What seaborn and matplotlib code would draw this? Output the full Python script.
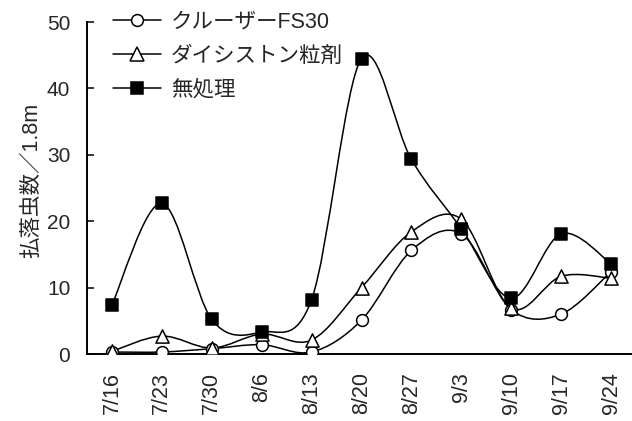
import numpy as np
import pandas as pd
import matplotlib
matplotlib.use("Agg")
import matplotlib.pyplot as plt
from matplotlib.path import Path
from matplotlib.patches import PathPatch
from matplotlib.lines import Line2D
import seaborn as sns

# Survey dates and beaten-off insect counts per 1.8 m
dates = ["7/16", "7/23", "7/30", "8/6", "8/13", "8/20", "8/27", "9/3", "9/10", "9/17", "9/24"]
cruiser = [0.3, 0.3, 0.8, 1.4, 0.3, 5.1, 15.6, 18.1, 6.7, 6.0, 12.4]
daisyston = [0.4, 2.7, 0.9, 3.0, 2.1, 10.0, 18.4, 20.3, 6.9, 11.7, 11.4]
untreated = [7.4, 22.7, 5.2, 3.3, 8.2, 44.5, 29.3, 18.9, 8.4, 18.1, 13.6]
series_names = ["クルーザーFS30", "ダイシストン粒剤", "無処理"]
y_ticks = [0, 10, 20, 30, 40, 50]
y_label = "払落虫数／1.8m"

sns.set_style("white")
plt.rcParams["font.family"] = ["Liberation Sans", "Noto Sans CJK JP", "DejaVu Sans"]

rows = []
for name, vals in zip(series_names, [cruiser, daisyston, untreated]):
    for i, (d, v) in enumerate(zip(dates, vals)):
        rows.append({"series": name, "date": d, "pos": i, "count": v})
df = pd.DataFrame(rows)

styles = {
    series_names[0]: dict(marker="o", ms=8.5, mfc="white"),
    series_names[1]: dict(marker="^", ms=9.5, mfc="white"),
    series_names[2]: dict(marker="s", ms=9.0, mfc="black"),
}

fig = plt.figure(figsize=(6.32, 4.21), dpi=100)
ax = fig.add_axes([87 / 632, (421 - 354) / 421, 549 / 632, 332 / 421])


def smooth_path(xs, ys, k=1.0 / 6.0):
    """Piecewise cubic Bezier through the points (Catmull-Rom style tangents)."""
    pts = np.column_stack([xs, ys]).astype(float)
    n = len(pts)
    verts = [pts[0]]
    codes = [Path.MOVETO]
    for i in range(n - 1):
        p_prev = pts[i - 1] if i > 0 else pts[i]
        p0 = pts[i]
        p1 = pts[i + 1]
        p_next = pts[i + 2] if i + 2 < n else pts[i + 1]
        c1 = p0 + (p1 - p_prev) * k
        c2 = p1 - (p_next - p0) * k
        verts += [c1, c2, p1]
        codes += [Path.CURVE4] * 3
    return Path(verts, codes)


for z, name in enumerate(series_names):
    sub = df[df["series"] == name]
    patch = PathPatch(smooth_path(sub["pos"], sub["count"]), fill=False,
                      edgecolor="black", lw=1.1, zorder=2 + z)
    ax.add_patch(patch)
    st = styles[name]
    sns.scatterplot(data=sub, x="pos", y="count", ax=ax, marker=st["marker"],
                    s=st["ms"] ** 2, facecolor=st["mfc"], edgecolor="black",
                    linewidth=1.1, zorder=5 + z, legend=False)

ax.set_xlim(-0.5, len(dates) - 0.5)
ax.set_ylim(0, 50)
ax.set_xticks(range(len(dates)))
ax.set_xticklabels(dates, rotation=90, fontsize=15.5)
ax.set_xticks(np.arange(0.5, len(dates) - 0.5, 1), minor=True)
ax.set_yticks(y_ticks)
ax.set_yticklabels([str(t) for t in y_ticks], fontsize=15)
ax.tick_params(axis="x", which="major", length=0, pad=13)
ax.tick_params(axis="x", which="minor", direction="in", length=5, width=1.1, color="black")
ax.tick_params(axis="y", direction="in", length=5, width=1.1, color="black", pad=12, left=True)
ax.set_xlabel("")
ax.set_ylabel(y_label, fontsize=15.5)
ax.yaxis.set_label_coords(-0.082, 0.522)

for side in ["top", "right"]:
    ax.spines[side].set_visible(False)
for side in ["left", "bottom"]:
    ax.spines[side].set_color("black")
    ax.spines[side].set_linewidth(1.4)
ax.grid(False)

handles = [Line2D([], [], color="black", lw=1.1, marker=styles[n]["marker"],
                  ms=styles[n]["ms"], mfc=styles[n]["mfc"], mec="black", mew=1.1)
           for n in series_names]
fig.legend(handles, series_names, loc="upper left",
           bbox_to_anchor=(113 / 632, (421 - 12) / 421), bbox_transform=fig.transFigure,
           frameon=False, fontsize=15.5, handlelength=2.25, handletextpad=0.45,
           labelspacing=0.6, borderpad=0, borderaxespad=0)

fig.savefig("out.png", dpi=100)
